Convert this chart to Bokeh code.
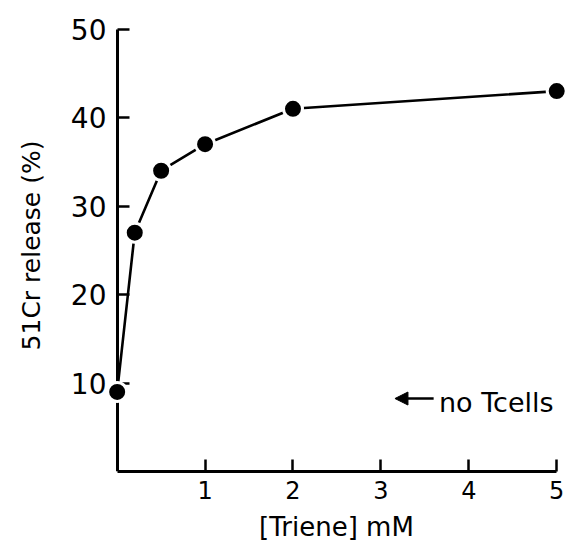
from bokeh.plotting import figure
from bokeh.models import FixedTicker, Range1d, Arrow, NormalHead, Label, ColumnDataSource, LinearAxis
from bokeh.embed import file_html
from bokeh.resources import INLINE

# Data
conc = [0, 0.2, 0.5, 1, 2, 5]          # [Triene] mM
release = [9, 27, 34, 37, 41, 43]      # 51Cr release (%)
x_ticks = [1, 2, 3, 4, 5]
y_ticks = [10, 20, 30, 40, 50]
x_title = "[Triene] mM"
y_title = "51Cr  release (%)"
note_text = "no Tcells"

FONT = "DejaVu Sans"

p = figure(frame_width=458, frame_height=460,
           x_range=Range1d(-0.11, 5.1), y_range=Range1d(0, 52),
           output_backend="svg", toolbar_location=None,
           min_border_left=107, min_border_top=11, min_border_right=0,
           min_border_bottom=70)
p.outline_line_color = None
p.xgrid.grid_line_color = None
p.ygrid.grid_line_color = None
p.background_fill_color = "white"
p.border_fill_color = "white"

src = ColumnDataSource(dict(x=conc, y=release))
p.line("x", "y", source=src, line_color="black", line_width=2.6)
p.scatter("x", "y", source=src, size=19, fill_color="black",
          line_color="white", line_width=3, level="overlay")

# x axis
xa = p.xaxis[0]
xa.ticker = FixedTicker(ticks=x_ticks)
xa.bounds = (0, 5)
xa.axis_line_width = 3
xa.major_tick_line_width = 2.5
xa.major_tick_in = 12
xa.major_tick_out = 0
xa.minor_tick_line_color = None
xa.major_label_text_font = FONT
xa.major_label_text_font_size = "24px"
xa.major_label_text_color = "black"
xa.major_label_standoff = 9
xa.axis_label = x_title
xa.axis_label_text_font = FONT
xa.axis_label_text_font_size = "26px"
xa.axis_label_text_font_style = "normal"
xa.axis_label_text_color = "black"
xa.axis_label_standoff = 10

# y axis: labels on the frame edge, line and ticks at x = 0
ya = p.yaxis[0]
ya.ticker = FixedTicker(ticks=y_ticks)
ya.axis_line_color = None
ya.major_tick_line_color = None
ya.minor_tick_line_color = None
ya.major_tick_in = 0
ya.major_tick_out = 0
ya.major_label_text_font = FONT
ya.major_label_text_font_size = "28px"
ya.major_label_text_color = "black"
ya.major_label_standoff = 1
ya.axis_label = y_title
ya.axis_label_text_font = FONT
ya.axis_label_text_font_size = "25px"
ya.axis_label_text_font_style = "normal"
ya.axis_label_text_color = "black"
ya.axis_label_standoff = 22

ya2 = LinearAxis(ticker=FixedTicker(ticks=y_ticks), bounds=(0, 50), fixed_location=0,
                 axis_line_width=3, major_tick_line_width=2.5,
                 major_tick_in=12, major_tick_out=0, minor_tick_line_color=None,
                 major_label_text_font_size="0px", major_label_text_alpha=0,
                 major_label_standoff=0)
p.add_layout(ya2, "left")

# "no Tcells" annotation
arrow_y = 8.25
p.add_layout(Arrow(end=NormalHead(size=13, fill_color="black", line_color="black"),
                   x_start=3.6, y_start=arrow_y, x_end=3.16, y_end=arrow_y,
                   line_width=2.5, line_color="black"))
p.add_layout(Label(x=3.66, y=7.8, text=note_text, text_font=FONT,
                   text_font_size="27px", text_baseline="alphabetic",
                   text_color="black"))

open("out.html", "w").write(file_html(p, INLINE))
